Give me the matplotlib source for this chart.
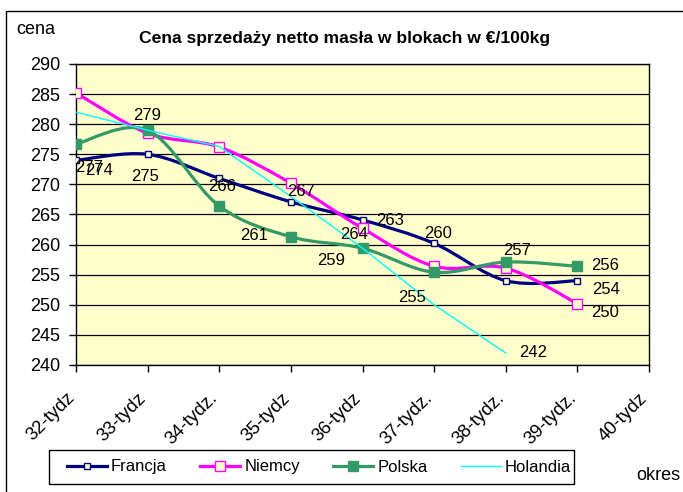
import numpy as np
import matplotlib
matplotlib.use('Agg')
import matplotlib.pyplot as plt
import matplotlib.transforms as mtransforms
from matplotlib.path import Path
from matplotlib.patches import PathPatch, Rectangle
from matplotlib.lines import Line2D

plt.rcParams['font.family'] = ['Liberation Sans', 'DejaVu Sans']

# ---- data ----
weeks = ['32-tydz', '33-tydz', '34-tydz.', '35-tydz', '36-tydz',
         '37-tydz.', '38-tydz.', '39-tydz.', '40-tydz']
francja = [274.0, 275.0, 271.0, 267.1, 264.1, 260.2, 254.0, 254.0]
niemcy = [285.2, 278.5, 276.2, 270.2, 262.7, 256.4, 256.1, 250.2]
polska = [276.7, 279.0, 266.4, 261.3, 259.4, 255.4, 257.1, 256.4]
holandia = [282.0, 279.0, 276.3, 268.0, 259.4, 250.0, 242.0]
series_names = ['Francja', 'Niemcy', 'Polska', 'Holandia']
yticks = list(range(240, 291, 5))

# data labels: (series, point index, x offset px, y offset px downward)
label_spec = [
    ('Polska', 0, 13, 23), ('Francja', 0, 23, 10),
    ('Polska', 1, 0, -15), ('Francja', 1, -3, 22),
    ('Polska', 2, 3, -20),
    ('Polska', 3, -37, -1), ('Francja', 3, 10, -10),
    ('Francja', 4, -8, 15), ('Niemcy', 4, 28, -8), ('Polska', 4, -31, 12),
    ('Francja', 5, 4, -10), ('Polska', 5, -22, 25),
    ('Polska', 6, 11, -12),
    ('Polska', 7, 28, -1), ('Francja', 7, 29, 9), ('Niemcy', 7, 28, 9),
    ('Holandia', 6, 27, 0),
]

data = {'Francja': francja, 'Niemcy': niemcy, 'Polska': polska, 'Holandia': holandia}

BG = '#FFFFCC'
colors = {'Francja': '#000080', 'Niemcy': '#FF00FF', 'Polska': '#339966', 'Holandia': '#00FFFF'}

W, H = 683, 492
fig = plt.figure(figsize=(W / 100, H / 100), dpi=100)
fig.patch.set_facecolor('white')
ax = fig.add_axes([76 / W, 1 - 365 / H, (649 - 76) / W, (365 - 64) / H])
ax.set_facecolor(BG)
ax.set_xlim(0, 8)
ax.set_ylim(240, 290)
ax.set_yticks(yticks)
ax.set_xticks(range(len(weeks)))
ax.set_xticklabels(weeks, rotation=45, ha='right', va='center', rotation_mode='anchor')
ax.tick_params(axis='both', direction='out', length=5, width=1, labelsize=13, color='black')
ax.tick_params(axis='y', pad=6.5)
ax.tick_params(axis='x', pad=17, labelsize=13.3)
shift = mtransforms.ScaledTranslation(-4 / 100, 0, fig.dpi_scale_trans)
for lab in ax.get_xticklabels():
    lab.set_transform(lab.get_transform() + shift)
ax.yaxis.grid(True, color='black', lw=0.9)
ax.set_axisbelow(True)
for s in ax.spines.values():
    s.set_color('black')
    s.set_linewidth(1)


def smooth_path(xs, ys):
    P = np.column_stack([xs, ys]).astype(float)
    n = len(P)
    verts = [P[0]]
    codes = [Path.MOVETO]
    for i in range(n - 1):
        p0 = P[i - 1] if i > 0 else P[i]
        p1 = P[i]
        p2 = P[i + 1]
        p3 = P[i + 2] if i + 2 < n else P[i + 1]
        c1 = p1 + (p2 - p0) / 6.0
        c2 = p2 - (p3 - p1) / 6.0
        verts += [c1, c2, p2]
        codes += [Path.CURVE4] * 3
    return Path(verts, codes)


styles = {
    'Francja': dict(marker='s', ms=4.5, mfc=BG, mew=1.0),
    'Niemcy': dict(marker='s', ms=7.5, mfc=BG, mew=1.0),
    'Polska': dict(marker='s', ms=7.5, mfc=colors['Polska'], mew=1.0),
}

handles = []
for z, name in enumerate(series_names):
    vals = data[name]
    xs = np.arange(len(vals))
    c = colors[name]
    if name == 'Holandia':
        ax.plot(xs, vals, color=c, lw=1.0, zorder=3 + z)
        handles.append(Line2D([], [], color=c, lw=1.0))
    else:
        ax.add_patch(PathPatch(smooth_path(xs, vals), fc='none', ec=c, lw=2.3,
                               zorder=3 + z, capstyle='round', joinstyle='round'))
        st = styles[name]
        ax.plot(xs, vals, ls='none', marker=st['marker'], ms=st['ms'], mfc=st['mfc'],
                mec=c, mew=st['mew'], zorder=3 + z)
        handles.append(Line2D([], [], color=c, lw=2.3, marker=st['marker'], ms=st['ms'],
                              mfc=st['mfc'], mec=c, mew=st['mew']))

for name, i, dx, dy in label_spec:
    v = data[name][i]
    ax.annotate(f'{round(v)}', xy=(i, v), xytext=(dx, -dy), textcoords='offset pixels',
                ha='center', va='center', fontsize=12, zorder=20, annotation_clip=False)

# legend
fig.legend(handles, series_names, loc='center left', bbox_to_anchor=(67 / W, 1 - 467 / H),
           ncol=4, frameon=False, borderpad=0, borderaxespad=0, handlelength=2.4,
           handletextpad=0.24, columnspacing=2.0, fontsize=12, numpoints=1)
fig.add_artist(Rectangle((49 / W, 1 - 484 / H), (574 - 49) / W, 34 / H,
                         transform=fig.transFigure, fill=False, ec='black', lw=1))

# outer chart border
fig.add_artist(Rectangle((6 / W, -0.1), 1.2, 1 - 11 / H + 0.1,
                         transform=fig.transFigure, fill=False, ec='black', lw=1))

fig.text(16 / W, 1 - 30 / H, 'cena', fontsize=13, ha='left', va='center')
fig.text(345 / W, 1 - 38 / H, 'Cena sprzedaży netto masła w blokach w €/100kg',
         fontsize=12.6, fontweight='bold', ha='center', va='center')
fig.text(636 / W, 1 - 475 / H, 'okres', fontsize=13, ha='left', va='center')

fig.savefig('out.png', dpi=100)
